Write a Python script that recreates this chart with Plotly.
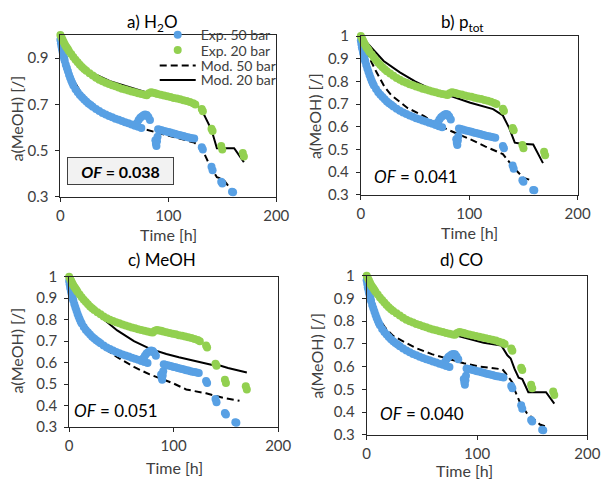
import plotly.graph_objects as go

# ---------------- data ----------------
# Experimental, 50 bar (same in all panels)
t_exp50 = [0, 0.5, 1, 1.5, 2, 2.5, 3, 3.5, 4, 5, 6, 7, 8, 9, 10, 11, 12, 14, 16, 18, 20, 22, 24, 26, 28, 30,
           33, 36, 39, 42, 45, 48, 51, 54, 57, 60, 63, 66, 69, 72, 75,
           71, 72.5, 74, 75.5, 77, 78.5, 80, 81.5, 83,
           88, 88.5, 89, 89.5, 90,
           90.5, 92, 94, 96, 98, 100, 102, 104, 106, 108, 110, 112, 114, 116, 118, 120, 122, 124,
           131, 132, 140, 141, 149, 150, 159, 160]
a_exp50 = [0.98, 0.965, 0.95, 0.94, 0.928, 0.918, 0.908, 0.898, 0.889, 0.872, 0.857, 0.843, 0.828, 0.815, 0.803, 0.792, 0.782, 0.766, 0.752, 0.741, 0.731, 0.721, 0.712, 0.704, 0.697, 0.69,
           0.68, 0.671, 0.663, 0.656, 0.65, 0.644, 0.638, 0.633, 0.628, 0.623, 0.618, 0.613, 0.608, 0.603, 0.598,
           0.62, 0.632, 0.642, 0.648, 0.653, 0.656, 0.654, 0.645, 0.632,
           0.545, 0.53, 0.52, 0.54, 0.56,
           0.592, 0.59, 0.588, 0.585, 0.583, 0.58, 0.578, 0.575, 0.573, 0.57, 0.568, 0.565, 0.563, 0.56, 0.558, 0.556, 0.554, 0.552,
           0.515, 0.505, 0.43, 0.415, 0.365, 0.358, 0.322, 0.32]

# Experimental, 20 bar (same in all panels)
t_exp20 = [0, 1, 2, 3, 4, 5, 6, 7, 8, 10, 12, 14, 16, 18, 20, 22, 24, 27, 30, 33, 36, 39, 42, 45, 48, 51,
           54, 57, 60, 63, 66, 69, 72, 75, 78, 80, 82, 84, 86, 88, 90, 93, 96, 99, 102, 105, 108, 111,
           114, 117, 120, 123, 125,
           131, 132, 140, 141, 149, 150, 169, 170]
a_exp20 = [1.0, 0.99, 0.98, 0.97, 0.96, 0.952, 0.945, 0.938, 0.93, 0.918, 0.905, 0.893, 0.882, 0.872, 0.862, 0.853, 0.845, 0.835, 0.825, 0.815, 0.807, 0.8, 0.794, 0.788, 0.783, 0.778,
           0.773, 0.768, 0.764, 0.76, 0.756, 0.752, 0.748, 0.745, 0.742, 0.74, 0.748, 0.752, 0.75, 0.748, 0.745, 0.742, 0.738, 0.735, 0.732, 0.728, 0.725, 0.722,
           0.718, 0.715, 0.71, 0.705, 0.7,
           0.68, 0.67, 0.595, 0.585, 0.52, 0.505, 0.49, 0.475]

# Model curves, panel a) H2O
t_mod50_a = [0, 5, 10, 20, 30, 40, 50, 60, 70, 80, 100, 124, 131, 139, 145, 151, 160]
a_mod50_a = [0.97, 0.88, 0.82, 0.745, 0.7, 0.665, 0.64, 0.62, 0.6, 0.59, 0.565, 0.535, 0.51, 0.43, 0.385, 0.375, 0.32]
t_mod20_a = [0, 5, 10, 22, 30, 46, 60, 73, 80, 90, 100, 110, 124, 131, 140, 145, 161, 170]
a_mod20_a = [1.0, 0.96, 0.925, 0.86, 0.835, 0.8, 0.78, 0.762, 0.752, 0.742, 0.733, 0.723, 0.71, 0.675, 0.59, 0.51, 0.51, 0.45]

# Model curves, panel b) p_tot
t_mod50_b = [0, 4, 8.6, 14.5, 22, 28, 43, 58, 75, 96, 101, 115, 131, 141, 150, 157]
a_mod50_b = [0.98, 0.94, 0.9, 0.84, 0.775, 0.74, 0.683, 0.648, 0.598, 0.556, 0.545, 0.513, 0.48, 0.42, 0.375, 0.365]
t_mod20_b = [0, 21, 36, 50, 65, 89, 101, 122, 131, 137, 142, 148, 159, 168]
a_mod20_b = [1.0, 0.89, 0.84, 0.8, 0.765, 0.727, 0.706, 0.678, 0.65, 0.593, 0.53, 0.525, 0.522, 0.44]

# Model curves, panel c) MeOH
t_mod50_c = [0, 5, 10, 20, 31, 40, 46, 62, 77, 99, 112, 131, 148, 163]
a_mod50_c = [0.97, 0.88, 0.82, 0.74, 0.675, 0.645, 0.625, 0.58, 0.545, 0.505, 0.475, 0.457, 0.435, 0.422]
t_mod20_c = [0, 10, 20, 31, 46, 62, 77, 93, 105, 121, 136, 145, 152, 170]
a_mod20_c = [1.0, 0.93, 0.87, 0.81, 0.75, 0.7, 0.665, 0.64, 0.625, 0.608, 0.59, 0.585, 0.575, 0.554]

# Model curves, panel d) CO
t_mod50_d = [0, 5, 10, 17, 24, 44, 59, 74, 88, 103, 123, 126, 132, 135, 140, 145, 152, 157, 164]
a_mod50_d = [0.97, 0.88, 0.82, 0.77, 0.735, 0.683, 0.655, 0.634, 0.615, 0.6, 0.588, 0.57, 0.53, 0.486, 0.43, 0.396, 0.367, 0.345, 0.333]
t_mod20_d = [0, 10, 20, 30, 40, 50, 60, 74, 94, 106, 122, 127.5, 130.5, 134, 137.7, 141, 146.5, 162.5, 170]
a_mod20_d = [1.0, 0.93, 0.87, 0.83, 0.8, 0.78, 0.765, 0.747, 0.721, 0.705, 0.693, 0.65, 0.636, 0.59, 0.551, 0.545, 0.487, 0.487, 0.437]

panel_titles = ["a) H<sub>2</sub>O", "b) p<sub>tot</sub>", "c) MeOH", "d) CO"]
of_values = ["0.038", "0.041", "0.051", "0.040"]
x_ticks = [0, 100, 200]
y_ticks_a = [0.3, 0.5, 0.7, 0.9]
y_ticks = [0.3, 0.4, 0.5, 0.6, 0.7, 0.8, 0.9, 1.0]

series_names = ["Exp. 50 bar", "Exp. 20 bar", "Mod. 50 bar", "Mod. 20 bar"]

# ---------------- style / layout ----------------
W, H = 614, 488
BLUE = "#58A0E4"
GREEN = "#92D050"
FRAME = "#262626"
TXT = "#404040"
FONT = "Lato"

# plot areas in pixels: (left, right, top, bottom)
boxes = [(58, 280, 26, 194), (367, 590, 27, 192), (67, 282, 277, 433), (373, 600, 276, 441)]

def px(x):
    return x / W

def py(y):
    return 1 - y / H

models = [
    (t_mod50_a, a_mod50_a, t_mod20_a, a_mod20_a),
    (t_mod50_b, a_mod50_b, t_mod20_b, a_mod20_b),
    (t_mod50_c, a_mod50_c, t_mod20_c, a_mod20_c),
    (t_mod50_d, a_mod50_d, t_mod20_d, a_mod20_d),
]

# one single-entry legend per row (Exp.50, Exp.20, Mod.50, Mod.20)
legend_ids = ["legend", "legend2", "legend3", "legend4"]
legend_rows = [26, 42, 58, 73]

fig = go.Figure()
layout = {}
for i, (box, mod) in enumerate(zip(boxes, models)):
    n = "" if i == 0 else str(i + 1)
    xa, ya = "x" + n, "y" + n
    leg = i == 0
    t50, m50, t20, m20 = mod
    fig.add_trace(go.Scatter(x=t50, y=m50, mode="lines", name=series_names[2], legend=legend_ids[2],
                             line=dict(color="black", width=2, dash="7px,4px"),
                             xaxis=xa, yaxis=ya, showlegend=leg))
    fig.add_trace(go.Scatter(x=t20, y=m20, mode="lines", name=series_names[3], legend=legend_ids[3],
                             line=dict(color="black", width=2),
                             xaxis=xa, yaxis=ya, showlegend=leg))
    fig.add_trace(go.Scatter(x=t_exp50, y=a_exp50, mode="markers", name=series_names[0], legend=legend_ids[0],
                             marker=dict(color=BLUE, size=8), cliponaxis=False,
                             xaxis=xa, yaxis=ya, showlegend=leg))
    fig.add_trace(go.Scatter(x=t_exp20, y=a_exp20, mode="markers", name=series_names[1], legend=legend_ids[1],
                             marker=dict(color=GREEN, size=8), cliponaxis=False,
                             xaxis=xa, yaxis=ya, showlegend=leg))
    l, r, t, b = box
    axis_common = dict(showline=True, linecolor=FRAME, linewidth=1, mirror=True,
                       ticks="outside", ticklen=4, tickcolor=FRAME, showgrid=False, zeroline=False,
                       tickfont=dict(family=FONT, size=15, color=TXT))
    layout["xaxis" + n] = dict(domain=[px(l), px(r)], range=[0, 200], tickvals=x_ticks,
                               anchor=ya, ticklabelstandoff=1, **axis_common)
    layout["yaxis" + n] = dict(domain=[py(b), py(t)], range=[0.3, 1.0],
                               tickvals=y_ticks_a if i == 0 else y_ticks,
                               anchor=xa, ticklabelstandoff=4, **axis_common)

for lid, row in zip(legend_ids, legend_rows):
    layout[lid] = dict(x=px(155), y=py(row), xanchor="left", yanchor="middle", bgcolor="rgba(0,0,0,0)",
                       font=dict(family=FONT, size=14, color=TXT), itemwidth=36)

title_pos = [(153, 13), (472, 13), (162, 259), (471, 259)]
xlab_pos = [(169, 233), (479, 231), (175, 475), (474, 478)]
ylab_pos = [(13, 113), (320, 110), (13, 354), (322, 359)]
of_pos = [(120, 167), (424, 173), (115, 416), (430, 419)]

ann = []
for i in range(4):
    ann.append(dict(text=panel_titles[i], x=px(title_pos[i][0]), y=py(title_pos[i][1]),
                    xref="paper", yref="paper", showarrow=False, xanchor="center", yanchor="middle",
                    font=dict(family=FONT, size=17, color="#000000")))
    ann.append(dict(text="Time [h]", x=px(xlab_pos[i][0]), y=py(xlab_pos[i][1]),
                    xref="paper", yref="paper", showarrow=False, xanchor="center", yanchor="middle",
                    font=dict(family=FONT, size=16, color=TXT)))
    ann.append(dict(text="a(MeOH) [/]", x=px(ylab_pos[i][0]), y=py(ylab_pos[i][1]), textangle=-90,
                    xref="paper", yref="paper", showarrow=False, xanchor="center", yanchor="middle",
                    font=dict(family=FONT, size=16, color=TXT)))
    if i == 0:
        ann.append(dict(text="<b><i>OF</i> = " + of_values[i] + "</b>", x=px(of_pos[i][0]), y=py(of_pos[i][1]),
                        xref="paper", yref="paper", showarrow=False, xanchor="center", yanchor="middle",
                        width=103, height=24, bgcolor="#F2F2F2", bordercolor="#404040", borderwidth=1,
                        borderpad=1, font=dict(family=FONT, size=16, color="#000000")))
    else:
        ann.append(dict(text="<i>OF</i> = " + of_values[i], x=px(of_pos[i][0]), y=py(of_pos[i][1]),
                        xref="paper", yref="paper", showarrow=False, xanchor="center", yanchor="middle",
                        font=dict(family=FONT, size=17, color="#000000")))

fig.update_layout(
    width=W, height=H, margin=dict(l=0, r=0, t=0, b=0),
    paper_bgcolor="white", plot_bgcolor="white",
    font=dict(family=FONT, size=13, color=TXT),
    showlegend=True,
    annotations=ann,
    **layout,
)

fig.write_html("out.html")
